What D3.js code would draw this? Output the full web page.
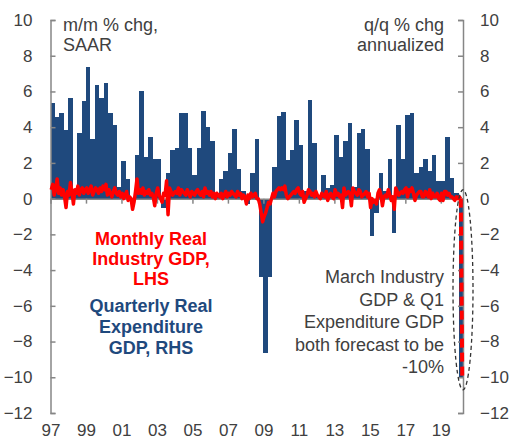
<!DOCTYPE html>
<html>
<head>
<meta charset="utf-8">
<script src="https://cdn.jsdelivr.net/npm/d3@7"></script>
<style>
  body { margin: 0; background: #fff; }
  svg { font-family: "Liberation Sans", Arial, sans-serif; }
</style>
</head>
<body>
<div id="container"></div>
<script>
// quarterly real expenditure GDP, q/q % chg annualized, 1997Q1 .. 2020Q1 (RHS)
const quarterlyGdp = [
    5.35, 4.55, 4.8, 3.85,
    5.65, 0.2, 3.65, 5.45,
    7.35, 3.35, 6.35, 5.65,
    6.45, 4.8, 4.1, 0.65,
    2.1, 1.1, -0.3, 2.45,
    6.0, 2.35, 3.45, 2.2,
    2.2, -0.5, 1.45, 2.75,
    2.85, 4.8, 4.8, 2.85,
    1.3, 2.85, 4.9, 4.0,
    3.25, 0.2, 1.1, 1.55,
    2.55, 3.9, 1.65, 0.45,
    -0.3, 1.45, 3.35, -4.4,
    -8.65, -4.4, 1.75, 4.64,
    4.86, 2.16, 2.74, 4.41,
    3.0, 0.45, 5.53, 3.09,
    0.2, 1.32, 0.6, 0.78,
    3.56, 2.35, 3.2, 4.23,
    0.63, 3.65, 3.89, 2.78,
    -2.1, -0.8, 1.43, 0.4,
    2.2, -1.9, 4.1, 2.22,
    4.67, 4.78, 1.43, 1.75,
    2.22, 1.56, 2.44, 1.0,
    1.0, 3.46, 1.13, 0.3,
    -10
]

// monthly real industry GDP, m/m % chg, Jan 1997 .. Mar 2020 (LHS)
const monthlyGdp = [
    0.5, 0.8, 0.2, 0.6, 1.1, 0.3, 0.6, 0.2, 0.5, 0.1, -0.5, 0.4,
    0.2, 0.9, 0.4, -0.3, 0.5, 0.3, 0.7, 0.2, 0.5, 0.6, 0.3, 0.5,
    0.6, 0.3, 0.5, 0.7, 0.2, 0.4, 0.6, 0.5, 0.3, 0.6, 0.4, 0.7,
    0.5, 0.8, 0.2, 0.5, 0.3, 0.1, 0.4, 0.6, 0.3, 0.2, 0.4, 0.1,
    0.3, 0.0, 0.2, 0.4, -0.1, 0.1, 0.0, -0.6, -0.2, 0.4, 1.1, 0.3,
    0.5, 0.3, 0.6, 0.2, 0.4, 0.3, 0.5, 0.2, 0.3, 0.1, -0.4, 0.3,
    0.6, 0.2, 0.0, -0.2, 0.3, 0.2, 1.0, -0.9, 0.6, 0.4, 0.2, 0.3,
    0.4, 0.3, 0.6, 0.2, 0.5, 0.4, 0.3, 0.2, 0.5, 0.3, 0.1, 0.4,
    0.3, 0.2, 0.4, 0.5, 0.3, 0.2, 0.4, 0.1, 0.6, 0.3, 0.4, 0.2,
    0.4, 0.1, 0.3, 0.0, 0.3, 0.2, 0.1, 0.3, 0.0, 0.2, 0.4, 0.1,
    0.3, 0.2, 0.4, 0.3, 0.2, 0.1, 0.4, 0.2, 0.3, 0.0, 0.2, 0.1,
    -0.3, 0.2, 0.0, 0.3, 0.1, 0.2, 0.3, 0.0, 0.0, -0.3, -0.8, -1.3,
    -1.0, -0.8, -0.5, -0.2, -0.3, 0.0, 0.3, 0.1, 0.4, 0.5, 0.6, 0.5,
    0.6, 0.5, 0.7, 0.2, 0.0, 0.1, 0.2, 0.3, 0.4, 0.3, 0.5, 0.6,
    0.3, 0.2, 0.4, -0.2, 0.0, 0.2, 0.5, 0.4, 0.2, 0.3, 0.1, 0.4,
    0.2, 0.1, 0.0, 0.3, 0.2, 0.1, 0.4, -0.1, 0.2, 0.3, 0.1, 0.0,
    0.5, 0.2, 0.3, 0.1, 0.2, -0.5, 0.6, 0.2, 0.3, 0.4, 0.3, -0.4,
    0.6, 0.4, 0.3, 0.2, 0.5, 0.4, 0.1, 0.2, 0.3, 0.4, 0.1, 0.3,
    -0.5, 0.0, -0.2, -0.1, -0.3, 0.3, 0.5, 0.2, -0.4, 0.1, 0.2, 0.1,
    0.5, 0.2, -0.1, 0.1, -0.6, 0.6, 0.4, 0.2, 0.3, 0.4, 0.3, 0.5,
    0.6, 0.1, 0.5, 0.4, 0.6, 0.3, -0.1, 0.2, 0.3, 0.4, 0.4, 0.1,
    0.1, 0.4, 0.3, 0.1, 0.5, 0.0, 0.3, 0.1, 0.1, 0.3, 0.0, -0.1,
    0.3, -0.1, 0.4, 0.4, 0.2, 0.3, 0.1, 0.1, 0.0, -0.1, 0.1, 0.0,
    0.1, 0.0, -10
]

const startYear = 1997
const yearTicks = [1997, 1999, 2001, 2003, 2005, 2007, 2009, 2011, 2013, 2015, 2017, 2019]
const yearLabels = ["97", "99", "01", "03", "05", "07", "09", "11", "13", "15", "17", "19"]

const leftUnit = ["m/m % chg,", "SAAR"]
const rightUnit = ["q/q % chg", "annualized"]
const redLabel = ["Monthly Real", "Industry GDP,", "LHS"]
const blueLabel = ["Quarterly Real", "Expenditure", "GDP, RHS"]
const forecastNote = ["March Industry", "GDP & Q1", "Expenditure GDP", "both forecast to be", "-10%"]

let width = 509
let height = 444
let margin = {top: 20, right: 46, bottom: 31, left: 50.5}
let blue = "#1f497d"
let red = "#ff0000"
let grey = "#868686"
let textColor = "#404040"

let svg = d3.select("#container")
    .append("svg")
    .attr("width", width)
    .attr("height", height)

let x = d3.scaleLinear()
    .domain([startYear, startYear + quarterlyGdp.length / 4])
    .range([margin.left, width - margin.right])

let xq = d3.scaleBand()
    .domain(d3.range(quarterlyGdp.length))
    .range([margin.left, width - margin.right])

let yL = d3.scaleLinear().domain([-12, 10]).range([height - margin.bottom, margin.top])
let yR = d3.scaleLinear().domain([-12, 10]).range([height - margin.bottom, margin.top])

// quarterly bars
svg.append("g")
    .attr("shape-rendering", "crispEdges")
    .selectAll("rect")
    .data(quarterlyGdp)
    .join("rect")
        .attr("x", (d, i) => xq(i))
        .attr("width", xq.bandwidth())
        .attr("y", d => yR(Math.max(0, d)))
        .attr("height", d => Math.abs(yR(d) - yR(0)))
        .attr("fill", blue)

// zero line with year ticks
svg.append("g")
    .attr("transform", `translate(0,${yL(0)})`)
    .call(d3.axisBottom(x).tickValues(yearTicks).tickFormat("").tickSize(5).tickSizeOuter(0))
    .call(g => g.selectAll("line, path").attr("stroke", grey).attr("stroke-width", 1.5))

// year labels along the bottom
svg.append("g")
    .attr("transform", `translate(0,${height - margin.bottom})`)
    .call(d3.axisBottom(x).tickValues(yearTicks).tickFormat((d, i) => yearLabels[i]).tickSize(0).tickPadding(11))
    .call(g => g.select(".domain").remove())
    .call(g => g.selectAll("text").attr("font-size", 17).attr("fill", textColor).attr("font-family", null))

// left axis
svg.append("g")
    .attr("transform", `translate(${margin.left},0)`)
    .call(d3.axisLeft(yL).tickValues(d3.range(-12, 11, 2)).tickSizeInner(-5).tickSizeOuter(-5).tickPadding(18))
    .call(g => g.selectAll("line, path").attr("stroke", grey).attr("stroke-width", 1.5))
    .call(g => g.selectAll("text").attr("font-size", 17).attr("fill", textColor).attr("font-family", null))

// right axis
svg.append("g")
    .attr("transform", `translate(${width - margin.right},0)`)
    .call(d3.axisRight(yR).tickValues(d3.range(-12, 11, 2)).tickSizeInner(-5).tickSizeOuter(-5).tickPadding(17))
    .call(g => g.selectAll("line, path").attr("stroke", grey).attr("stroke-width", 1.5))
    .call(g => g.selectAll("text").attr("font-size", 17).attr("fill", textColor).attr("font-family", null))

// monthly line, last month dashed (forecast)
let monthX = i => x(startYear + (i + 0.5) / 12)
let line = d3.line()
    .x(d => monthX(d.i))
    .y(d => yL(d.v))

let monthly = monthlyGdp.map((v, i) => ({i, v}))
let n = monthly.length

svg.append("path")
    .datum(monthly.slice(0, n - 1))
    .attr("fill", "none")
    .attr("stroke", red)
    .attr("stroke-width", 3.5)
    .attr("stroke-linejoin", "round")
    .attr("d", line)

svg.append("path")
    .datum(monthly.slice(n - 2))
    .attr("fill", "none")
    .attr("stroke", red)
    .attr("stroke-width", 4)
    .attr("stroke-dasharray", "9,5")
    .attr("d", line)

// dashed ellipse round the forecast
svg.append("ellipse")
    .attr("cx", x(startYear + quarterlyGdp.length / 4))
    .attr("cy", yR(-5.1))
    .attr("rx", 10)
    .attr("ry", 100)
    .attr("fill", "none")
    .attr("stroke", "#333")
    .attr("stroke-width", 1.3)
    .attr("stroke-dasharray", "4,3")

// text
function textBlock(lines, xPos, y0, step, anchor, color, weight) {
    svg.append("g")
        .selectAll("text")
        .data(lines)
        .join("text")
            .attr("x", xPos)
            .attr("y", (d, i) => y0 + i * step)
            .attr("text-anchor", anchor)
            .attr("fill", color)
            .attr("font-size", 18)
            .attr("font-weight", weight)
            .text(d => d)
}

textBlock(leftUnit, 63, 31, 19.5, "start", textColor, "normal")
textBlock(rightUnit, 444, 31, 19.5, "end", textColor, "normal")
textBlock(redLabel, 151, 245, 20, "middle", red, "bold")
textBlock(blueLabel, 151, 312, 21, "middle", blue, "bold")
textBlock(forecastNote, 444, 283, 22.5, "end", textColor, "normal")
</script>
</body>
</html>
